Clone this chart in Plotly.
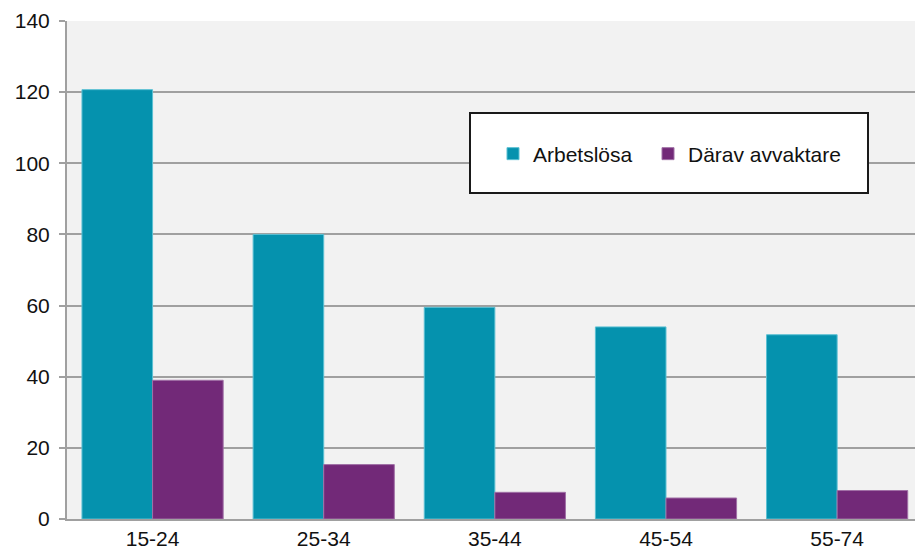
import plotly.graph_objects as go

categories = ["15-24", "25-34", "35-44", "45-54", "55-74"]
arbetslosa = [120.7, 80, 59.5, 54, 51.8]
avvaktare = [39, 15.3, 7.5, 5.9, 8]
y_ticks = [0, 20, 40, 60, 80, 100, 120, 140]

TEAL = "#0592AE"
PURPLE = "#722978"

fig = go.Figure()
fig.add_trace(go.Bar(x=categories, y=arbetslosa, name="Arbetslösa", legend="legend",
                     marker=dict(color=TEAL, line=dict(color="#5BC0D3", width=1))))
fig.add_trace(go.Bar(x=categories, y=avvaktare, name="Därav avvaktare", legend="legend2",
                     marker=dict(color=PURPLE, line=dict(color="#A070A6", width=1))))

L, R, T, B = 67, 0, 21, 33
W, H = 915, 552
pw = W - L - R
ph = H - T - B

def px(x):
    return (x - L) / pw

def py(y):
    return (H - B - y) / ph

FS = 21

leg_common = dict(
    orientation="h",
    xanchor="left", yanchor="middle",
    bgcolor="rgba(0,0,0,0)",
    borderwidth=0,
    font=dict(size=FS, color="#111111"),
)

fig.update_layout(
    width=W, height=H,
    margin=dict(l=L, r=R, t=T, b=B, pad=0),
    paper_bgcolor="white",
    plot_bgcolor="#F2F2F2",
    barmode="group",
    bargap=0.175,
    bargroupgap=0,
    font=dict(family="Liberation Sans, Arial, sans-serif", size=FS, color="#111111"),
    xaxis=dict(
        type="category",
        range=[-0.5, 4.455],
        showgrid=False,
        showline=True, linecolor="#A0A0A0", linewidth=2,
        ticks="", tickfont=dict(size=FS),
        fixedrange=True,
    ),
    yaxis=dict(
        range=[0, 140],
        tickvals=y_ticks,
        showgrid=True, gridcolor="#A0A0A0", gridwidth=1.5,
        showline=True, linecolor="#A0A0A0", linewidth=2,
        ticks="outside", ticklen=6, tickcolor="#A0A0A0", tickwidth=1.5,
        tickfont=dict(size=FS),
        ticklabelstandoff=5,
        zeroline=False,
        fixedrange=True,
    ),
    showlegend=True,
    legend=dict(x=px(493), y=py(154), **leg_common),
    legend2=dict(x=px(648), y=py(154), **leg_common),
    shapes=[dict(
        type="rect", xref="paper", yref="paper",
        x0=px(470), x1=px(868), y0=py(193), y1=py(113),
        fillcolor="white", line=dict(color="#1a1a1a", width=2),
        layer="above",
    )],
)
fig.write_html("out.html", config={"displayModeBar": False},
               post_script="document.body.style.margin='0';document.body.style.padding='0';")
